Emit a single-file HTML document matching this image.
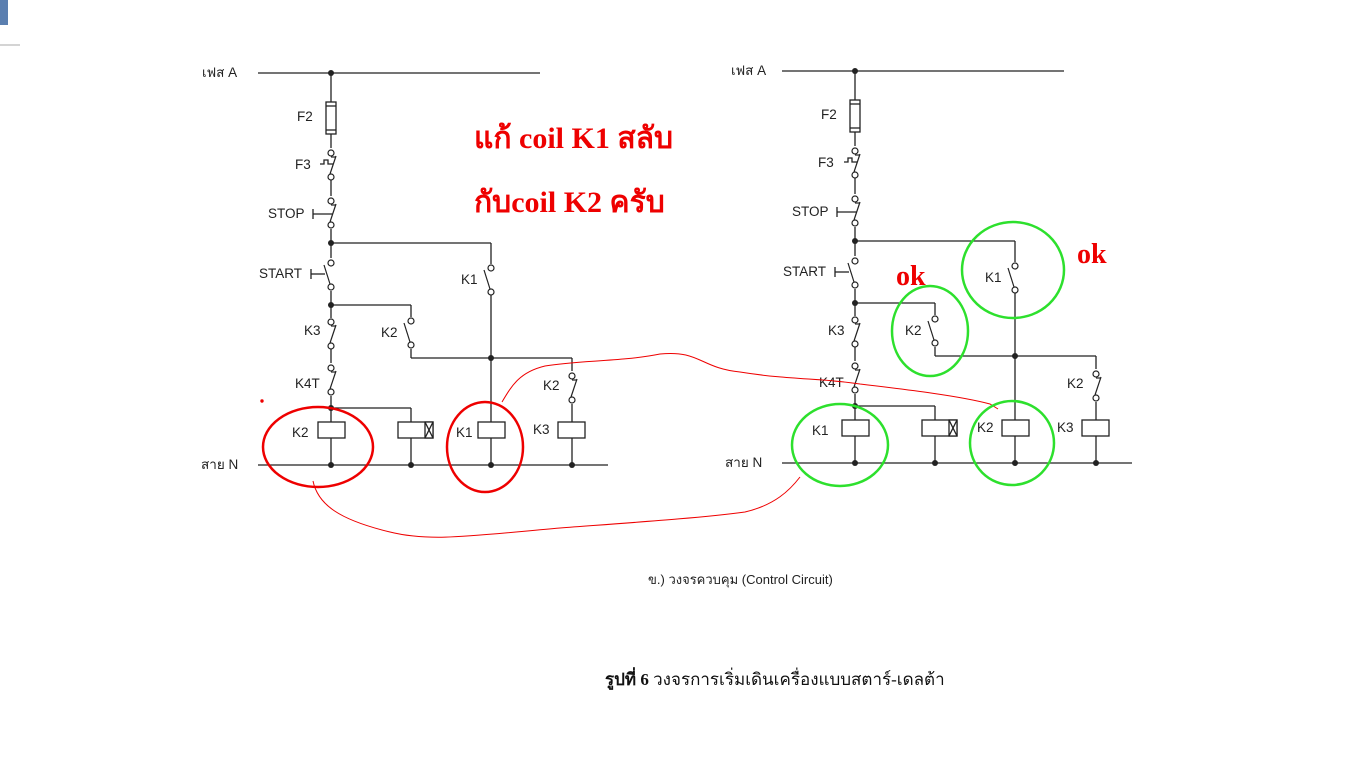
<!DOCTYPE html>
<html><head><meta charset="utf-8"><style>
html,body{margin:0;padding:0;background:#fff;width:1366px;height:768px;overflow:hidden}
svg{display:block}
.t{font-family:"Liberation Sans",sans-serif;font-size:13.5px;fill:#222}
.r{font-family:"Liberation Serif",serif;fill:#e00;font-weight:bold}
</style></head><body>
<svg width="1366" height="768" viewBox="0 0 1366 768">
<defs>
<g id="nc">
<circle cx="0" cy="0" r="3" fill="#fff" stroke="#222" stroke-width="1.2"/>
<circle cx="0" cy="24" r="3" fill="#fff" stroke="#222" stroke-width="1.2"/>
<line x1="5" y1="3" x2="-1" y2="21" stroke="#222" stroke-width="1.2"/>
<line x1="0" y1="4" x2="5" y2="4" stroke="#222" stroke-width="1.2"/>
</g>
<g id="no">
<circle cx="0" cy="0" r="3" fill="#fff" stroke="#222" stroke-width="1.2"/>
<circle cx="0" cy="24" r="3" fill="#fff" stroke="#222" stroke-width="1.2"/>
<line x1="-7" y1="2" x2="-1" y2="21" stroke="#222" stroke-width="1.2"/>
</g>
<g id="ckt" stroke="#222" stroke-width="1.3" fill="none">
<line x1="258" y1="73" x2="540" y2="73"/>
<line x1="258" y1="465" x2="608" y2="465"/>
<line x1="331" y1="73" x2="331" y2="465"/>
<rect x="326" y="102" width="10" height="32" fill="#fff"/>
<line x1="326" y1="106" x2="336" y2="106"/><line x1="326" y1="130" x2="336" y2="130"/>
<line x1="331" y1="243" x2="491" y2="243"/>
<line x1="491" y1="243" x2="491" y2="465"/>
<line x1="331" y1="305" x2="411" y2="305"/>
<line x1="411" y1="305" x2="411" y2="358"/>
<line x1="411" y1="358" x2="572" y2="358"/>
<line x1="572" y1="358" x2="572" y2="465"/>
<line x1="331" y1="408" x2="411" y2="408"/>
<line x1="411" y1="408" x2="411" y2="465"/>
<rect x="318" y="422" width="27" height="16" fill="#fff"/>
<rect x="398" y="422" width="35" height="16" fill="#fff"/>
<rect x="425" y="422" width="8" height="16" fill="#fff"/>
<line x1="425" y1="422" x2="433" y2="438"/><line x1="433" y1="422" x2="425" y2="438"/>
<rect x="478" y="422" width="27" height="16" fill="#fff"/>
<rect x="558" y="422" width="27" height="16" fill="#fff"/>
<rect x="326" y="148" width="10" height="32" fill="#fff" stroke="none"/>
<rect x="326" y="196" width="10" height="33" fill="#fff" stroke="none"/>
<rect x="326" y="258" width="10" height="33" fill="#fff" stroke="none"/>
<rect x="326" y="318" width="10" height="31" fill="#fff" stroke="none"/>
<rect x="326" y="363" width="10" height="33" fill="#fff" stroke="none"/>
<rect x="486" y="264" width="10" height="31" fill="#fff" stroke="none"/>
<rect x="406" y="317" width="10" height="32" fill="#fff" stroke="none"/>
<rect x="567" y="371" width="10" height="33" fill="#fff" stroke="none"/>
<path d="M320 164 h4 v-4 h4 v4 h5"/>
<line x1="313" y1="214" x2="333" y2="214"/><line x1="313" y1="209" x2="313" y2="219"/>
<line x1="311" y1="274" x2="325" y2="274"/><line x1="311" y1="269" x2="311" y2="279"/>
</g>
<g id="ckt2" fill="#222">
<use href="#nc" x="331" y="153"/>
<use href="#nc" x="331" y="201"/>
<use href="#no" x="331" y="263"/>
<use href="#nc" x="331" y="322"/>
<use href="#nc" x="331" y="368"/>
<use href="#no" x="491" y="268"/>
<use href="#no" x="411" y="321"/>
<use href="#nc" x="572" y="376"/>
<circle cx="331" cy="73" r="3"/><circle cx="331" cy="243" r="3"/><circle cx="331" cy="305" r="3"/>
<circle cx="331" cy="408" r="3"/><circle cx="491" cy="358" r="3"/>
<circle cx="331" cy="465" r="3"/><circle cx="411" cy="465" r="3"/><circle cx="491" cy="465" r="3"/><circle cx="572" cy="465" r="3"/>
</g>
</defs>
<use href="#ckt"/><use href="#ckt2"/>
<g transform="translate(524,-2)"><use href="#ckt"/><use href="#ckt2"/></g>

<g class="t">
<text x="202" y="77">เฟส A</text>
<text x="297" y="121">F2</text>
<text x="295" y="169">F3</text>
<text x="268" y="218">STOP</text>
<text x="259" y="278">START</text>
<text x="461" y="284">K1</text>
<text x="304" y="335">K3</text>
<text x="381" y="337">K2</text>
<text x="295" y="388">K4T</text>
<text x="543" y="390">K2</text>
<text x="292" y="437">K2</text>
<text x="456" y="437">K1</text>
<text x="533" y="434">K3</text>
<text x="201" y="469">สาย N</text>
</g>
<g class="t">
<text x="731" y="75">เฟส A</text>
<text x="821" y="119">F2</text>
<text x="818" y="167">F3</text>
<text x="792" y="216">STOP</text>
<text x="783" y="276">START</text>
<text x="985" y="282">K1</text>
<text x="828" y="335">K3</text>
<text x="905" y="335">K2</text>
<text x="819" y="387">K4T</text>
<text x="1067" y="388">K2</text>
<text x="812" y="435">K1</text>
<text x="977" y="432">K2</text>
<text x="1057" y="432">K3</text>
<text x="725" y="467">สาย N</text>
</g>
<text x="648" y="584" class="t" style="font-size:13px">ข.) วงจรควบคุม (Control Circuit)</text>
<text x="605" y="685" style="font-family:'Liberation Serif',serif;font-size:17px;fill:#111"><tspan font-weight="bold">รูปที่ 6</tspan> วงจรการเริ่มเดินเครื่องแบบสตาร์-เดลต้า</text>

<text x="474" y="148" class="r" style="font-size:30px">แก้ coil K1 สลับ</text>
<text x="474" y="212" class="r" style="font-size:30px">กับcoil K2  ครับ</text>
<text x="896" y="285" class="r" style="font-size:28px">ok</text>
<text x="1077" y="263" class="r" style="font-size:28px">ok</text>
<g fill="none" stroke="#e00">
<ellipse cx="318" cy="447" rx="55" ry="40" stroke-width="2.5"/>
<ellipse cx="485" cy="447" rx="38" ry="45" stroke-width="2.5"/>
<path d="M502 402 C512 385 520 372 545 366 C580 360 620 362 660 354 C700 350 700 368 740 372 C790 380 820 378 860 384 C910 390 960 396 990 404 L998 409" stroke-width="1"/>
<path d="M313 481 C318 505 340 520 390 532 C430 542 470 536 560 528 C640 522 700 518 745 512 C775 505 790 490 800 477" stroke-width="1"/>
<circle cx="262" cy="401" r="1.2" fill="#e00"/>
</g>
<g fill="none" stroke="#2de02d" stroke-width="2.5">
<ellipse cx="840" cy="445" rx="48" ry="41"/>
<ellipse cx="1012" cy="443" rx="42" ry="42"/>
<ellipse cx="930" cy="331" rx="38" ry="45"/>
<ellipse cx="1013" cy="270" rx="51" ry="48"/>
</g>
<rect x="0" y="0" width="8" height="25" fill="#5b7fb0"/>
<line x1="0" y1="45" x2="20" y2="45" stroke="#aaa"/>
</svg>
</body></html>
